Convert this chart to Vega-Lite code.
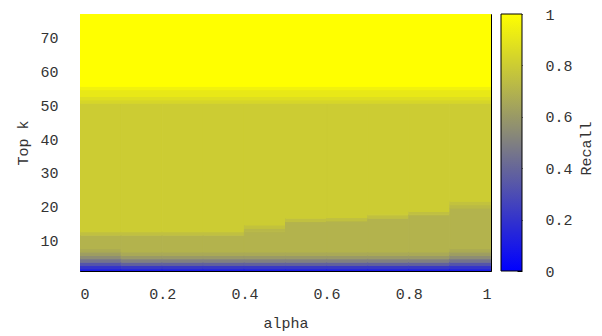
{
  "$schema": "https://vega.github.io/schema/vega-lite/v6.json",
  "width": 411,
  "height": 257,
  "autosize": {"type": "none"},
  "padding": {"left": 80, "top": 14, "right": 111, "bottom": 65},
  "background": "white",
  "config": {
    "view": {"stroke": "#000000", "strokeWidth": 1},
    "font": "Liberation Mono",
    "axis": {
      "labelFont": "Liberation Mono",
      "titleFont": "Liberation Mono",
      "labelFontSize": 15,
      "titleFontSize": 15,
      "labelColor": "#333333",
      "titleColor": "#333333",
      "titleFontWeight": "normal",
      "tickColor": "#000000",
      "tickWidth": 1,
      "grid": false,
      "domain": false,
      "zindex": 2
    }
  },
  "data": {
    "values": [
      {"a0":0,"a1":0.1,"k0":1,"k1":1.6,"r":0.1},{"a0":0,"a1":0.1,"k0":1.6,"k1":2.6,"r":0.2},{"a0":0,"a1":0.1,"k0":2.6,"k1":3.6,"r":0.33},{"a0":0,"a1":0.1,"k0":3.6,"k1":4.6,"r":0.45},{"a0":0,"a1":0.1,"k0":4.6,"k1":5.6,"r":0.55},{"a0":0,"a1":0.1,"k0":5.6,"k1":6.6,"r":0.62},{"a0":0,"a1":0.1,"k0":6.6,"k1":7.6,"r":0.67},{"a0":0,"a1":0.1,"k0":7.6,"k1":11.6,"r":0.7},{"a0":0,"a1":0.1,"k0":11.6,"k1":12.6,"r":0.75},{"a0":0,"a1":0.1,"k0":12.6,"k1":50.6,"r":0.8},
      {"a0":0.1,"a1":0.2,"k0":1,"k1":1.6,"r":0.1},{"a0":0.1,"a1":0.2,"k0":1.6,"k1":2.6,"r":0.22},{"a0":0.1,"a1":0.2,"k0":2.6,"k1":3.6,"r":0.38},{"a0":0.1,"a1":0.2,"k0":3.6,"k1":4.6,"r":0.5},{"a0":0.1,"a1":0.2,"k0":4.6,"k1":5.6,"r":0.6},{"a0":0.1,"a1":0.2,"k0":5.6,"k1":6.6,"r":0.66},{"a0":0.1,"a1":0.2,"k0":6.6,"k1":11.6,"r":0.7},{"a0":0.1,"a1":0.2,"k0":11.6,"k1":12.6,"r":0.75},{"a0":0.1,"a1":0.2,"k0":12.6,"k1":50.6,"r":0.8},
      {"a0":0.2,"a1":0.3,"k0":1,"k1":1.6,"r":0.1},{"a0":0.2,"a1":0.3,"k0":1.6,"k1":2.6,"r":0.22},{"a0":0.2,"a1":0.3,"k0":2.6,"k1":3.6,"r":0.38},{"a0":0.2,"a1":0.3,"k0":3.6,"k1":4.6,"r":0.5},{"a0":0.2,"a1":0.3,"k0":4.6,"k1":5.6,"r":0.6},{"a0":0.2,"a1":0.3,"k0":5.6,"k1":6.6,"r":0.66},{"a0":0.2,"a1":0.3,"k0":6.6,"k1":11.6,"r":0.7},{"a0":0.2,"a1":0.3,"k0":11.6,"k1":12.6,"r":0.75},{"a0":0.2,"a1":0.3,"k0":12.6,"k1":50.6,"r":0.8},
      {"a0":0.3,"a1":0.4,"k0":1,"k1":1.6,"r":0.1},{"a0":0.3,"a1":0.4,"k0":1.6,"k1":2.6,"r":0.22},{"a0":0.3,"a1":0.4,"k0":2.6,"k1":3.6,"r":0.38},{"a0":0.3,"a1":0.4,"k0":3.6,"k1":4.6,"r":0.5},{"a0":0.3,"a1":0.4,"k0":4.6,"k1":5.6,"r":0.6},{"a0":0.3,"a1":0.4,"k0":5.6,"k1":6.6,"r":0.66},{"a0":0.3,"a1":0.4,"k0":6.6,"k1":11.6,"r":0.7},{"a0":0.3,"a1":0.4,"k0":11.6,"k1":12.6,"r":0.75},{"a0":0.3,"a1":0.4,"k0":12.6,"k1":50.6,"r":0.8},
      {"a0":0.4,"a1":0.5,"k0":1,"k1":1.6,"r":0.1},{"a0":0.4,"a1":0.5,"k0":1.6,"k1":2.6,"r":0.22},{"a0":0.4,"a1":0.5,"k0":2.6,"k1":3.6,"r":0.38},{"a0":0.4,"a1":0.5,"k0":3.6,"k1":4.6,"r":0.5},{"a0":0.4,"a1":0.5,"k0":4.6,"k1":5.6,"r":0.6},{"a0":0.4,"a1":0.5,"k0":5.6,"k1":6.6,"r":0.66},{"a0":0.4,"a1":0.5,"k0":6.6,"k1":12.6,"r":0.7},{"a0":0.4,"a1":0.5,"k0":12.6,"k1":13.6,"r":0.72},{"a0":0.4,"a1":0.5,"k0":13.6,"k1":14.6,"r":0.76},{"a0":0.4,"a1":0.5,"k0":14.6,"k1":50.6,"r":0.8},
      {"a0":0.5,"a1":0.6,"k0":1,"k1":1.6,"r":0.1},{"a0":0.5,"a1":0.6,"k0":1.6,"k1":2.6,"r":0.22},{"a0":0.5,"a1":0.6,"k0":2.6,"k1":3.6,"r":0.38},{"a0":0.5,"a1":0.6,"k0":3.6,"k1":4.6,"r":0.5},{"a0":0.5,"a1":0.6,"k0":4.6,"k1":5.6,"r":0.6},{"a0":0.5,"a1":0.6,"k0":5.6,"k1":6.6,"r":0.66},{"a0":0.5,"a1":0.6,"k0":6.6,"k1":15.6,"r":0.7},{"a0":0.5,"a1":0.6,"k0":15.6,"k1":16.6,"r":0.75},{"a0":0.5,"a1":0.6,"k0":16.6,"k1":50.6,"r":0.8},
      {"a0":0.6,"a1":0.7,"k0":1,"k1":1.6,"r":0.1},{"a0":0.6,"a1":0.7,"k0":1.6,"k1":2.6,"r":0.22},{"a0":0.6,"a1":0.7,"k0":2.6,"k1":3.6,"r":0.38},{"a0":0.6,"a1":0.7,"k0":3.6,"k1":4.6,"r":0.5},{"a0":0.6,"a1":0.7,"k0":4.6,"k1":5.6,"r":0.6},{"a0":0.6,"a1":0.7,"k0":5.6,"k1":6.6,"r":0.66},{"a0":0.6,"a1":0.7,"k0":6.6,"k1":15.8,"r":0.7},{"a0":0.6,"a1":0.7,"k0":15.8,"k1":16.8,"r":0.75},{"a0":0.6,"a1":0.7,"k0":16.8,"k1":50.6,"r":0.8},
      {"a0":0.7,"a1":0.8,"k0":1,"k1":1.6,"r":0.1},{"a0":0.7,"a1":0.8,"k0":1.6,"k1":2.6,"r":0.22},{"a0":0.7,"a1":0.8,"k0":2.6,"k1":3.6,"r":0.38},{"a0":0.7,"a1":0.8,"k0":3.6,"k1":4.6,"r":0.5},{"a0":0.7,"a1":0.8,"k0":4.6,"k1":5.6,"r":0.6},{"a0":0.7,"a1":0.8,"k0":5.6,"k1":6.6,"r":0.66},{"a0":0.7,"a1":0.8,"k0":6.6,"k1":16.6,"r":0.7},{"a0":0.7,"a1":0.8,"k0":16.6,"k1":17.6,"r":0.75},{"a0":0.7,"a1":0.8,"k0":17.6,"k1":50.6,"r":0.8},
      {"a0":0.8,"a1":0.9,"k0":1,"k1":1.6,"r":0.1},{"a0":0.8,"a1":0.9,"k0":1.6,"k1":2.6,"r":0.22},{"a0":0.8,"a1":0.9,"k0":2.6,"k1":3.6,"r":0.38},{"a0":0.8,"a1":0.9,"k0":3.6,"k1":4.6,"r":0.5},{"a0":0.8,"a1":0.9,"k0":4.6,"k1":5.6,"r":0.6},{"a0":0.8,"a1":0.9,"k0":5.6,"k1":6.6,"r":0.66},{"a0":0.8,"a1":0.9,"k0":6.6,"k1":17.6,"r":0.7},{"a0":0.8,"a1":0.9,"k0":17.6,"k1":18.6,"r":0.75},{"a0":0.8,"a1":0.9,"k0":18.6,"k1":50.6,"r":0.8},
      {"a0":0.9,"a1":1,"k0":1,"k1":1.6,"r":0.1},{"a0":0.9,"a1":1,"k0":1.6,"k1":2.6,"r":0.2},{"a0":0.9,"a1":1,"k0":2.6,"k1":3.6,"r":0.33},{"a0":0.9,"a1":1,"k0":3.6,"k1":4.6,"r":0.45},{"a0":0.9,"a1":1,"k0":4.6,"k1":5.6,"r":0.55},{"a0":0.9,"a1":1,"k0":5.6,"k1":6.6,"r":0.62},{"a0":0.9,"a1":1,"k0":6.6,"k1":7.6,"r":0.67},{"a0":0.9,"a1":1,"k0":7.6,"k1":19.6,"r":0.7},{"a0":0.9,"a1":1,"k0":19.6,"k1":20.6,"r":0.73},{"a0":0.9,"a1":1,"k0":20.6,"k1":21.6,"r":0.76},{"a0":0.9,"a1":1,"k0":21.6,"k1":50.6,"r":0.8},
      {"a0":0,"a1":1,"k0":50.6,"k1":51.6,"r":0.84},{"a0":0,"a1":1,"k0":51.6,"k1":52.6,"r":0.87},{"a0":0,"a1":1,"k0":52.6,"k1":54.6,"r":0.91},{"a0":0,"a1":1,"k0":54.6,"k1":55.6,"r":0.95},{"a0":0,"a1":1,"k0":55.6,"k1":77,"r":1.0}
    ]
  },
  "layer": [
    {
      "mark": {"type": "rect", "strokeWidth": 1, "clip": true, "stroke": {"expr": "scale('color', datum.r)"}},
      "encoding": {
        "x": {"field": "a0", "type": "quantitative", "scale": {"domain": [0, 1], "nice": false},
              "axis": {"orient": "bottom", "title": "alpha", "format": "~g", "values": [0, 0.2, 0.4, 0.6, 0.8, 1], "tickSize": -5, "labelPadding": 20, "labelBaseline": "top", "titleY": 51, "titleBaseline": "middle"}},
        "x2": {"field": "a1"},
        "y": {"field": "k0", "type": "quantitative", "scale": {"domain": [1, 77], "nice": false, "zero": false},
              "axis": {"orient": "left", "title": "Top k", "values": [10, 20, 30, 40, 50, 60, 70], "tickSize": -5, "labelPadding": 27, "titleX": -58, "titleY": 128.5, "titleAngle": -90, "titleBaseline": "middle", "titleAlign": "center"}},
        "y2": {"field": "k1"},
        "color": {"field": "r", "type": "quantitative",
                  "scale": {"domain": [0, 0.5, 1], "range": ["#0000ff", "#808080", "#ffff00"], "interpolate": "rgb"},
                  "legend": {"type": "gradient", "orient": "none", "legendX": 421, "legendY": 0, "direction": "vertical", "gradientLength": 257, "gradientThickness": 21, "gradientStrokeColor": "#000000", "gradientStrokeWidth": 1, "title": null, "labelOpacity": 0, "padding": 0, "values": [0, 1], "zindex": 1}}
      }
    },
    {
      "mark": {"type": "rect", "opacity": 0},
      "encoding": {
        "x": {"field": "a0", "type": "quantitative", "scale": {"domain": [0, 1], "nice": false},
              "axis": {"orient": "top", "title": null, "labels": false, "values": [0.2, 0.4, 0.6, 0.8], "tickSize": -5}},
        "x2": {"field": "a1"},
        "y": {"field": "k0", "type": "quantitative", "scale": {"domain": [1, 77], "nice": false, "zero": false},
              "axis": {"orient": "right", "title": null, "labels": false, "values": [10, 20, 30, 40, 50, 60, 70], "tickSize": -5}},
        "y2": {"field": "k1"}
      }
    },
    {
      "mark": {"type": "point", "opacity": 0},
      "encoding": {
        "y": {"field": "r", "type": "quantitative", "scale": {"domain": [0, 1], "nice": false},
              "axis": {"orient": "right", "offset": 31, "title": "Recall", "format": "~g", "values": [0, 0.2, 0.4, 0.6, 0.8, 1], "tickSize": -5, "labelPadding": 28, "labelBaseline": "middle", "titleAngle": -90, "titleX": 63, "titleY": 134, "titleBaseline": "middle", "titleAlign": "center"}}
      }
    },
    {
      "mark": {"type": "point", "opacity": 0},
      "encoding": {
        "y": {"field": "r", "type": "quantitative", "scale": {"domain": [0, 1], "nice": false},
              "axis": {"orient": "right", "offset": 10, "title": null, "labels": false, "values": [0.2, 0.4, 0.6, 0.8], "tickSize": 5}}
      }
    }
  ],
  "resolve": {"scale": {"y": "independent"}, "axis": {"x": "independent", "y": "independent"}}
}
